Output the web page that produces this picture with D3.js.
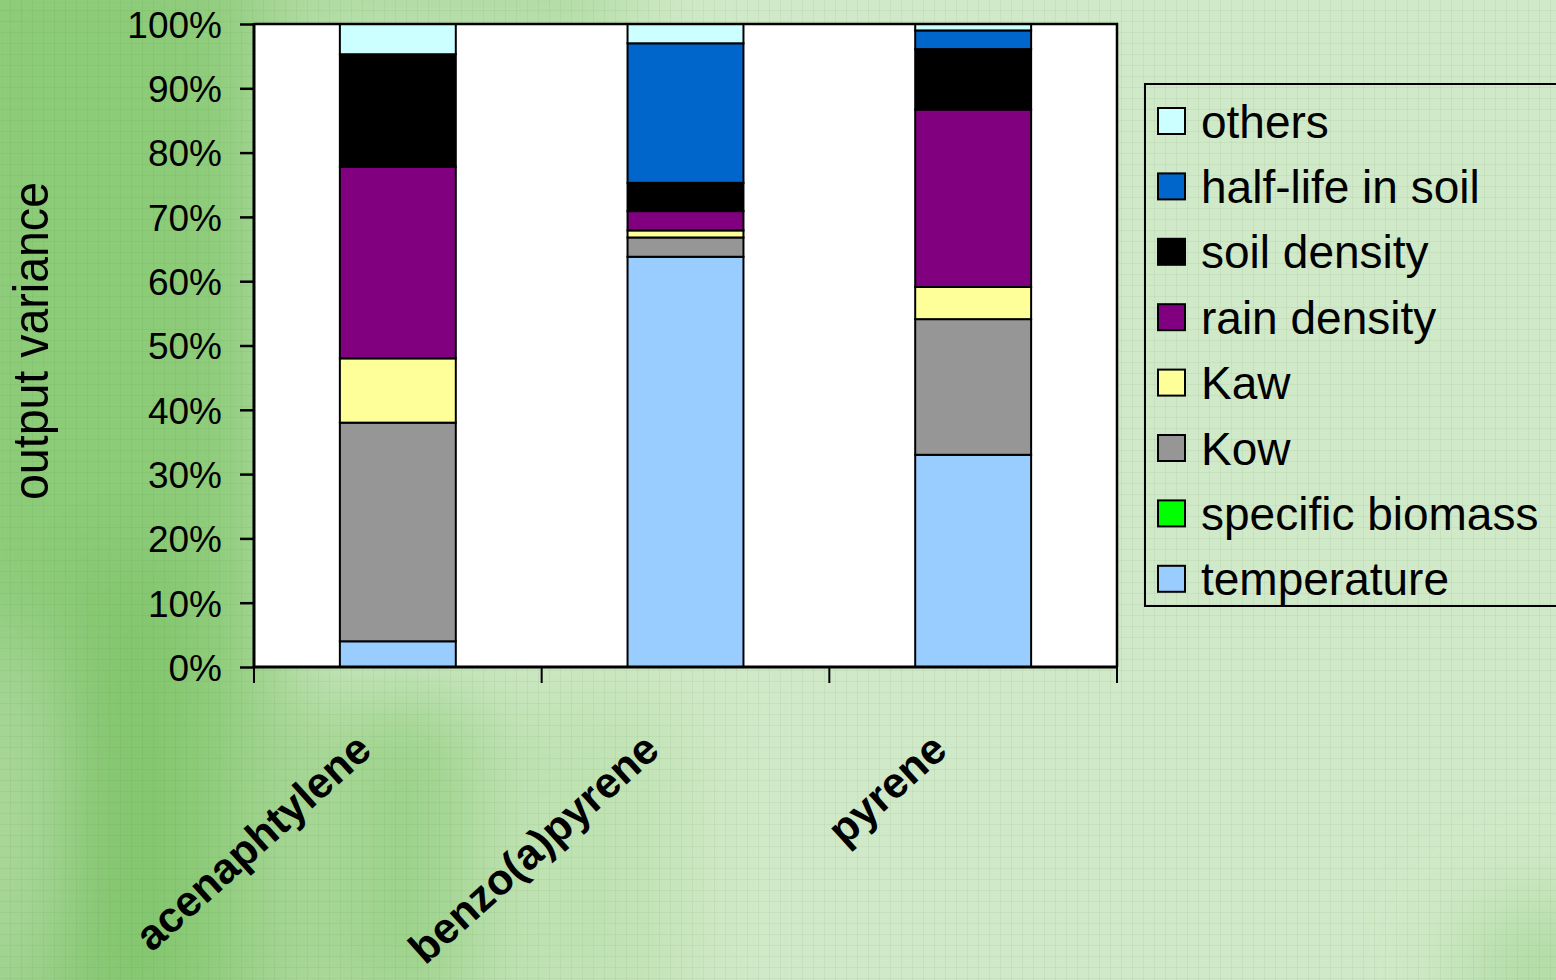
<!DOCTYPE html>
<html>
<head>
<meta charset="utf-8">
<script src="https://cdn.jsdelivr.net/npm/d3@7"></script>
<style>
  html, body { margin: 0; padding: 0; background: #cfe8c6; }
  svg { display: block; font-family: "Liberation Sans", Arial, sans-serif; }
</style>
</head>
<body>
<svg id="chart" width="1556" height="980"></svg>
<script>
// Share of output variance per compound, by input parameter (percent)
const categories = ["acenaphtylene", "benzo(a)pyrene", "pyrene"];
const seriesNames = ["temperature", "specific biomass", "Kow", "Kaw", "rain density", "soil density", "half-life in soil", "others"];
const seriesColors = ["#99CCFF", "#00FF00", "#969696", "#FFFF99", "#800080", "#000000", "#0066CC", "#CCFFFF"];

const temperature     = [4.0, 63.8, 33.0];
const specificBiomass = [0.0, 0.0, 0.0];
const kow             = [34.0, 3.0, 21.1];
const kaw             = [10.0, 1.1, 5.0];
const rainDensity     = [29.8, 3.0, 27.6];
const soilDensity     = [17.5, 4.4, 9.4];
const halfLifeInSoil  = [0.0, 21.7, 2.9];
const others          = [4.7, 3.0, 1.0];

const yTicks = [0, 0.1, 0.2, 0.3, 0.4, 0.5, 0.6, 0.7, 0.8, 0.9, 1.0];
const yTitle = "output variance";

const seriesValues = [temperature, specificBiomass, kow, kaw, rainDensity, soilDensity, halfLifeInSoil, others];
const rows = categories.map((c, i) => {
  const r = { category: c };
  seriesNames.forEach((s, j) => { r[s] = seriesValues[j][i]; });
  return r;
});

const svg = d3.select("#chart");
const W = 1556, H = 980;
const plot = { left: 254, right: 1117, top: 24, bottom: 667 };

// ---------- background: soft green wash with a fine grid texture ----------
const defs = svg.append("defs");
defs.append("filter").attr("id", "soft").attr("x", "-50%").attr("y", "-50%").attr("width", "200%").attr("height", "200%")
  .append("feGaussianBlur").attr("stdDeviation", 45);
const pat = defs.append("pattern").attr("id", "grid").attr("width", 11).attr("height", 11)
  .attr("patternUnits", "userSpaceOnUse");
pat.append("path").attr("d", "M11 0V11M0 11H11").attr("stroke", "rgba(30,90,20,0.11)").attr("stroke-width", 1).attr("fill", "none");

svg.append("rect").attr("width", W).attr("height", H).attr("fill", "#d0e9c8");
const wash = svg.append("g").attr("filter", "url(#soft)");
wash.append("rect").attr("x", -80).attr("y", -80).attr("width", 360).attr("height", 1140).attr("fill", "#8ccb78");
wash.append("rect").attr("x", 250).attr("y", -60).attr("width", 380).attr("height", 100).attr("fill", "#a9d899");
wash.append("rect").attr("x", 250).attr("y", 690).attr("width", 150).attr("height", 340).attr("fill", "#a7d796");
wash.append("rect").attr("x", 390).attr("y", 690).attr("width", 70).attr("height", 340).attr("fill", "#8fcd7b");
wash.append("rect").attr("x", 460).attr("y", 690).attr("width", 220).attr("height", 340).attr("fill", "#bfe2b2");
wash.append("rect").attr("x", 90).attr("y", 560).attr("width", 70).attr("height", 460).attr("fill", "#7dc266");
wash.append("ellipse").attr("cx", 10).attr("cy", 820).attr("rx", 40).attr("ry", 200).attr("fill", "#b4dca6");
wash.append("ellipse").attr("cx", 1550).attr("cy", 970).attr("rx", 90).attr("ry", 70).attr("fill", "#aedaa0");
svg.append("rect").attr("width", W).attr("height", H).attr("fill", "url(#grid)");

// ---------- scales ----------
const x = d3.scaleBand().domain(categories).range([plot.left, plot.right])
  .paddingInner(0.597).paddingOuter(0.2985);
const y = d3.scaleLinear().domain([0, 1]).range([plot.bottom, plot.top]);

const stack = d3.stack().keys(seriesNames).offset(d3.stackOffsetExpand);
const stacked = stack(rows);

// plot area
svg.append("rect").attr("x", plot.left).attr("y", plot.top)
  .attr("width", plot.right - plot.left).attr("height", plot.bottom - plot.top)
  .attr("fill", "#ffffff");

// ---------- stacked bars ----------
const layers = svg.append("g").selectAll("g").data(stacked).join("g")
  .attr("fill", (d, i) => seriesColors[i]);
layers.selectAll("rect").data(d => d.filter(p => p[1] - p[0] > 0)).join("rect")
  .attr("x", d => x(d.data.category))
  .attr("width", x.bandwidth())
  .attr("y", d => y(d[1]))
  .attr("height", d => y(d[0]) - y(d[1]))
  .attr("stroke", "#000").attr("stroke-width", 2);

// plot frame (top and right)
svg.append("path")
  .attr("d", `M${plot.left},${plot.top}H${plot.right}V${plot.bottom}`)
  .attr("fill", "none").attr("stroke", "#000").attr("stroke-width", 2.5);

// ---------- y axis ----------
const yAxis = svg.append("g").attr("transform", `translate(${plot.left},0)`)
  .call(d3.axisLeft(y).tickValues(yTicks).tickFormat(d3.format(".0%")).tickSize(14).tickPadding(18));
yAxis.select(".domain").attr("stroke-width", 3).attr("d", `M0,${plot.top - 1}V${plot.bottom + 1}`);
yAxis.selectAll(".tick line").attr("stroke-width", 2.5);
yAxis.selectAll(".tick text").attr("font-size", 37).attr("fill", "#000")
  .attr("font-family", "'Liberation Sans', Arial, sans-serif").attr("dy", "0.36em");

// ---------- x axis ----------
const xAxisG = svg.append("g");
xAxisG.append("line").attr("x1", plot.left - 1).attr("x2", plot.right + 1)
  .attr("y1", plot.bottom).attr("y2", plot.bottom).attr("stroke", "#000").attr("stroke-width", 3);
const boundaries = d3.range(categories.length + 1).map(i => plot.left + i * x.step());
xAxisG.selectAll("line.tick").data(boundaries).join("line").attr("class", "tick")
  .attr("x1", d => d).attr("x2", d => d)
  .attr("y1", plot.bottom).attr("y2", plot.bottom + 16)
  .attr("stroke", "#000").attr("stroke-width", 2);
xAxisG.selectAll("text").data(categories).join("text")
  .attr("transform", d => `translate(${x(d) + x.bandwidth() / 2 - 24},${plot.bottom + 86}) rotate(-42)`)
  .attr("text-anchor", "end")
  .attr("font-size", 43).attr("font-weight", "bold").attr("fill", "#000")
  .text(d => d);

// y axis title
svg.append("text")
  .attr("transform", "translate(48,341) rotate(-90)")
  .attr("text-anchor", "middle")
  .attr("font-size", 50).attr("textLength", 318).attr("lengthAdjust", "spacingAndGlyphs")
  .attr("fill", "#000").text(yTitle);

// ---------- legend ----------
const legend = svg.append("g");
legend.append("rect").attr("x", 1145).attr("y", 84).attr("width", 430).attr("height", 522)
  .attr("fill", "none").attr("stroke", "#000").attr("stroke-width", 2);
const legendOrder = d3.range(seriesNames.length).reverse();
const items = legend.selectAll("g.item").data(legendOrder).join("g").attr("class", "item")
  .attr("transform", (d, i) => `translate(1158,${121 + i * 65.4})`);
items.append("rect").attr("x", 0).attr("y", -13).attr("width", 27).attr("height", 26)
  .attr("fill", d => seriesColors[d]).attr("stroke", "#000").attr("stroke-width", 2);
items.append("text").attr("x", 43).attr("dy", "0.36em")
  .attr("font-size", 46).attr("fill", "#000").text(d => seriesNames[d]);
</script>
</body>
</html>
